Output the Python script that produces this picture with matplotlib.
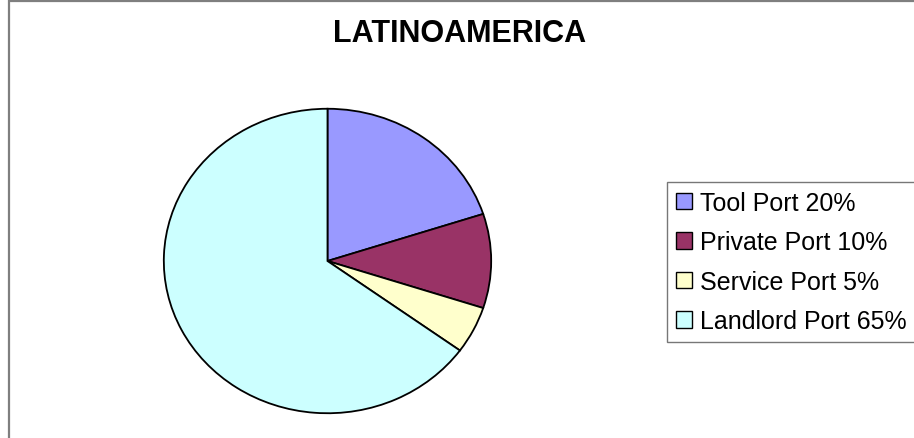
import matplotlib
matplotlib.use("Agg")
import matplotlib.pyplot as plt
from matplotlib.patches import Rectangle

plt.rcParams['font.family'] = ['Liberation Sans', 'DejaVu Sans']

# ── Data ────────────────────────────────────────────────────────────────────
title = "LATINOAMERICA"
labels = ["Tool Port 20%", "Private Port 10%", "Service Port 5%", "Landlord Port 65%"]
shares = [20, 10, 5, 65]
colors = ["#9999FF", "#993366", "#FFFFCC", "#CCFFFF"]

# ── Figure ──────────────────────────────────────────────────────────────────
W, H = 914, 439
fig = plt.figure(figsize=(W / 100, H / 100), dpi=100)

# outer chart border (right/bottom run off the picture)
fig.add_artist(Rectangle((9 / W, -0.1), 1.2, 1 - 1.5 / H + 0.1,
                         transform=fig.transFigure, fill=False,
                         edgecolor="#7f7f7f", linewidth=1.6))

ax = fig.add_axes([163 / W, (H - 415) / H, 329 / W, 306 / H])
wedges, _ = ax.pie(shares, colors=colors, startangle=90, counterclock=False,
                   wedgeprops=dict(edgecolor="black", linewidth=1.3))
ax.set_aspect("auto")
ax.set_xlim(-1.005, 1.005)
ax.set_ylim(-1.005, 1.005)
ax.axis("off")

fig.text(460 / W, 1 - 34 / H, title, ha="center", va="center",
         fontsize=22, fontweight="bold")

leg = fig.legend(wedges, labels, loc="upper left",
                 bbox_to_anchor=(667 / W, 1 - 183 / H),
                 fontsize=18, frameon=True, fancybox=False,
                 handlelength=0.65, handleheight=0.65, handletextpad=0.3,
                 borderpad=0.35, labelspacing=0.62, borderaxespad=0)
leg.get_frame().set_edgecolor("#555555")
leg.get_frame().set_linewidth(1.0)
for h in leg.legend_handles:
    h.set_edgecolor("black")
    h.set_linewidth(1.0)

fig.savefig("out.png", dpi=100)
